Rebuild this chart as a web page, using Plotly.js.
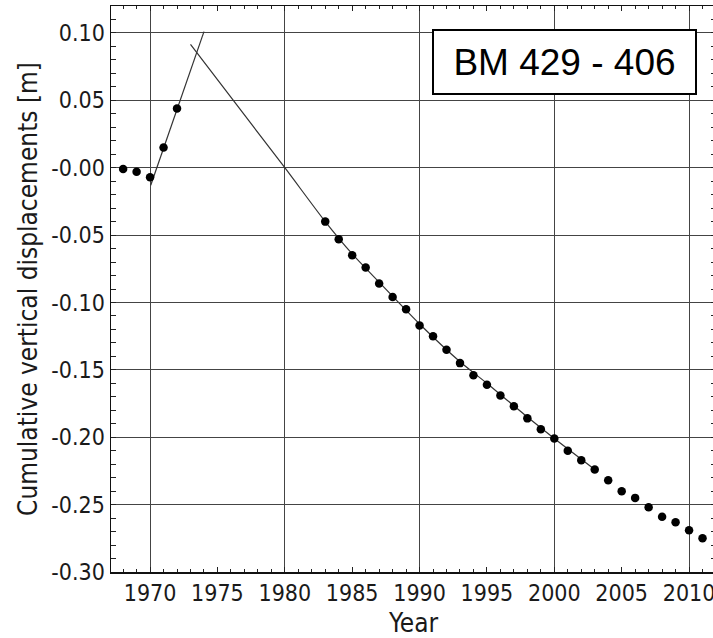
<!DOCTYPE html>
<html>
<head>
<meta charset="utf-8">
<script src="https://cdn.plot.ly/plotly-3.0.1.min.js"></script>
<style>
html,body{margin:0;padding:0;overflow:hidden;background:#fff;}
#chart{width:730px;height:638px;}
</style>
</head>
<body>
<div id="chart"></div>
<script>
// Observed data
const earlyYears = [1968, 1969, 1970, 1971, 1972];
const earlyValues = [-0.001, -0.003, -0.007, 0.015, 0.044];
const lateYears = [1983, 1984, 1985, 1986, 1987, 1988, 1989, 1990, 1991, 1992, 1993, 1994, 1995, 1996, 1997, 1998, 1999, 2000, 2001, 2002, 2003, 2004, 2005, 2006, 2007, 2008, 2009, 2010, 2011];
const lateValues = [-0.040, -0.053, -0.065, -0.074, -0.086, -0.096, -0.105, -0.117, -0.125, -0.135, -0.145, -0.154, -0.161, -0.169, -0.177, -0.186, -0.194, -0.201, -0.210, -0.217, -0.224, -0.232, -0.240, -0.245, -0.252, -0.259, -0.263, -0.269, -0.275];
// Fitted lines
const fit1Years = [1970.05, 1974.0];
const fit1Values = [-0.013, 0.101];
const fit2Years = [1973.0, 1980, 1983, 1985, 1987, 1990, 1993, 1995, 1998, 2000, 2003];
const fit2Values = [0.0915, 0.000, -0.040, -0.064, -0.085, -0.116, -0.144, -0.160, -0.185, -0.201, -0.224];
// Axis ticks
const yTickVals = [-0.30, -0.25, -0.20, -0.15, -0.10, -0.05, 0.00, 0.05, 0.10];
const yTickLabels = ['-0.30', '-0.25', '-0.20', '-0.15', '-0.10', '-0.05', '-0.00', '0.05', '0.10'];
const xRange = [1967.1, 2012.0];
const yRange = [-0.30, 0.12];
const labelText = 'BM 429 - 406';

const tickFont = {family: 'DejaVu Sans Condensed, DejaVu Sans, sans-serif', size: 23, color: '#1a1a1a'};
const titleFont = {family: 'DejaVu Sans Condensed, DejaVu Sans, sans-serif', size: 26, color: '#1a1a1a'};

const traces = [
  {x: fit1Years, y: fit1Values, mode: 'lines', line: {color: '#333', width: 1.2}, hoverinfo: 'skip', showlegend: false},
  {x: fit2Years, y: fit2Values, mode: 'lines', line: {color: '#333', width: 1.2, shape: 'spline', smoothing: 0.6}, hoverinfo: 'skip', showlegend: false},
  {x: earlyYears, y: earlyValues, mode: 'markers', marker: {color: '#000', size: 8.5}, showlegend: false},
  {x: lateYears, y: lateValues, mode: 'markers', marker: {color: '#000', size: 8.5}, showlegend: false},
  {x: [], y: [], xaxis: 'x2', mode: 'markers', showlegend: false}
];

const layout = {
  width: 730, height: 638,
  margin: {l: 111, r: 14, t: 6, b: 66},
  paper_bgcolor: '#fff', plot_bgcolor: '#fff',
  showlegend: false,
  xaxis: {
    range: xRange, tick0: 1970, dtick: 5, ticks: 'inside', ticklen: 5, tickwidth: 1, tickcolor: '#222',
    mirror: 'allticks', showline: true, linecolor: '#111', linewidth: 1.5,
    showgrid: false, zeroline: false, tickfont: tickFont, ticklabeloverflow: 'allow',
    minor: {dtick: 1, ticks: 'inside', ticklen: 3, tickcolor: '#222', showgrid: false},
    title: {text: 'Year', font: titleFont, standoff: 8}
  },
  xaxis2: {
    range: xRange, overlaying: 'x', anchor: 'y', tick0: 1970, dtick: 10, showgrid: true, gridcolor: '#444', gridwidth: 1,
    showticklabels: false, ticks: '', showline: false, zeroline: false
  },
  yaxis: {
    range: yRange, tickvals: yTickVals, ticktext: yTickLabels, ticks: 'inside', ticklen: 5, tickwidth: 1, tickcolor: '#222',
    mirror: 'allticks', showline: true, linecolor: '#111', linewidth: 1.5,
    showgrid: true, gridcolor: '#444', gridwidth: 1, zeroline: false, tickfont: tickFont,
    minor: {dtick: 0.01, tick0: 0, ticks: 'inside', ticklen: 3, tickcolor: '#222', showgrid: false},
    title: {text: 'Cumulative vertical displacements [m]', font: titleFont, standoff: 6}
  },
  annotations: [{
    xref: 'paper', yref: 'paper', x: 0.749, y: 0.9005, xanchor: 'center', yanchor: 'middle',
    text: labelText, showarrow: false,
    font: {family: 'Liberation Sans, Arial, sans-serif', size: 37, color: '#000'},
    bgcolor: '#fff', bordercolor: '#000', borderwidth: 2, borderpad: 0, width: 261, height: 62
  }]
};

Plotly.newPlot('chart', traces, layout, {staticPlot: true, displayModeBar: false});
</script>
</body>
</html>
